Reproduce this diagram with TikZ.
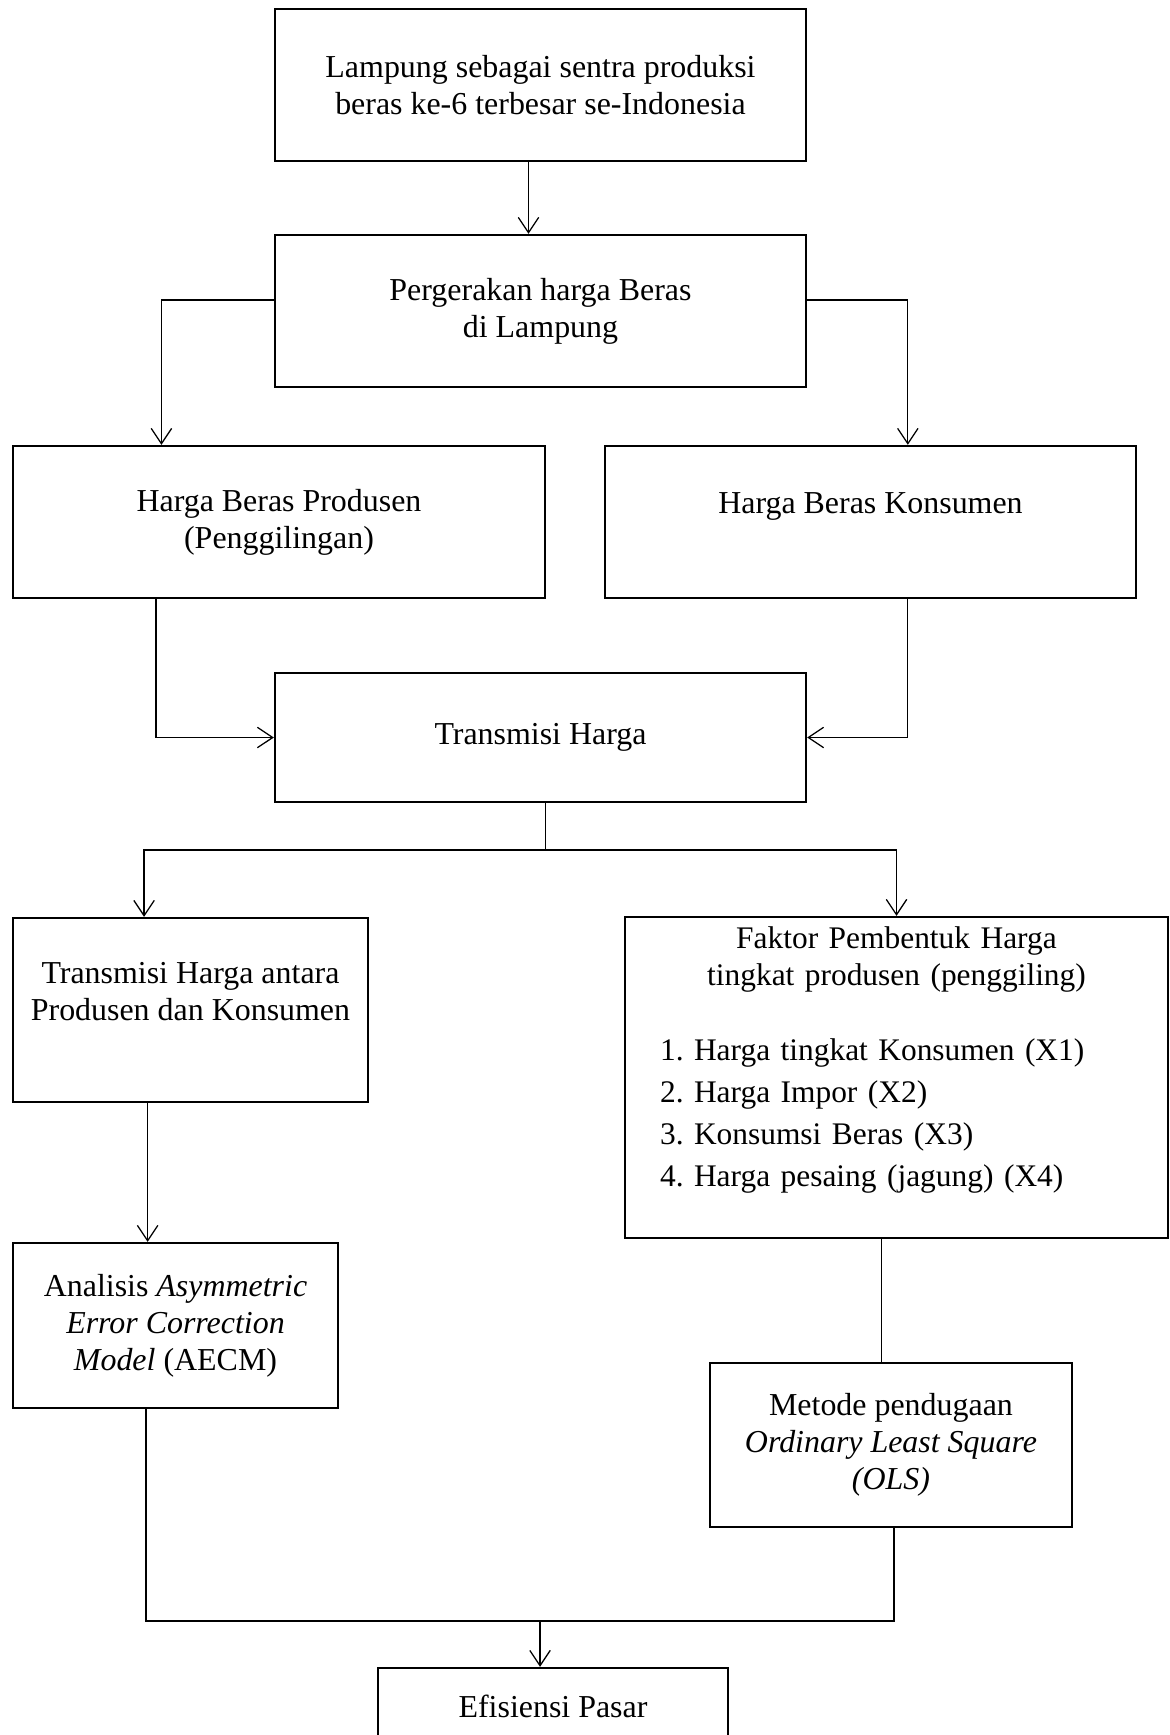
\documentclass[tikz,border=0pt,12pt]{standalone}
\usepackage{fontspec}
\setmainfont{Liberation Serif}
\usetikzlibrary{calc,arrows.meta}
\newlength\px
\setlength\px{0.3915pt}

\begin{document}
\begin{tikzpicture}[x=\px,y=-\px,
		kotak/.style={draw,line width=0.9pt,align=center,inner sep=2pt,font=\fontsize{12.5}{14.5}\selectfont},
		garis/.style={line width=0.5pt},
		panah/.style={garis,-{Straight Barb[length=6pt,width=8pt]}}]
	\useasboundingbox (0,0) rectangle (1170,1735);

	\node[kotak,minimum width=531\px,minimum height=152\px] (sentra) at (540.5,85) {Lampung sebagai sentra produksi\\beras ke-6 terbesar se-Indonesia};
	\node[kotak,minimum width=531\px,minimum height=152\px] (gerak) at (540.5,311) {Pergerakan harga Beras\\di Lampung};
	\node[kotak,minimum width=532\px,minimum height=152\px] (produsen) at (279,522) {Harga Beras Produsen\\(Penggilingan)};
	\node[kotak,minimum width=531\px,minimum height=152\px] (konsumen) at (870.5,522) {Harga Beras Konsumen\\\mbox{}};
	\node[kotak,minimum width=531\px,minimum height=129\px] (transmisi) at (540.5,737.5) {Transmisi Harga};
	\node[kotak,minimum width=355\px,minimum height=184\px] (antara) at (190.5,1010) {Transmisi Harga antara\\Produsen dan Konsumen\\\mbox{}};
	\node[draw,line width=0.9pt,inner sep=2pt,font=\fontsize{12.3}{14.5}\selectfont,minimum width=543\px,minimum height=321\px,text width=190pt] (faktor) at (896.5,1077.5) {%
		{\centering Faktor Pembentuk Harga\\tingkat produsen (penggiling)\par}
		\vspace{15.5pt}
		\noindent\hspace{2.5pt}\begin{tabular}{@{}l@{\hspace{4pt}}l@{}}
			1. & Harga tingkat Konsumen (X1)\\[2pt]
			2. & Harga Impor (X2)\\[2pt]
			3. & Konsumsi Beras (X3)\\[2pt]
			4. & Harga pesaing (jagung) (X4)\\[12pt]
		\end{tabular}};
	\node[kotak,minimum width=325\px,minimum height=165\px] (aecm) at (175.5,1325.5) {Analisis \textit{Asymmetric}\\\textit{Error Correction}\\\textit{Model} (AECM)};
	\node[kotak,minimum width=362\px,minimum height=164\px] (ols) at (891,1445) {Metode pendugaan\\\textit{Ordinary Least Square}\\\textit{(OLS)}};
	\node[kotak,minimum width=350\px,minimum height=77\px] (efisiensi) at (553,1706.5) {Efisiensi Pasar};

	\coordinate (cabang) at (0,850);
	\coordinate (gabung) at (0,1621);

	\draw[panah] ([xshift=-12\px]sentra.south) -- ([xshift=-12\px]gerak.north);
	\draw[panah] ([yshift=11\px]gerak.west) -| ($(produsen.north west)!.28!(produsen.north east)$);
	\draw[panah] ([yshift=11\px]gerak.east) -| ($(konsumen.north west)!.57!(konsumen.north east)$);
	\draw[panah] ($(produsen.south west)!.27!(produsen.south east)$) |- (transmisi.west);
	\draw[panah] ($(konsumen.south west)!.57!(konsumen.south east)$) |- (transmisi.east);
	\draw[garis] ([xshift=5\px]transmisi.south) coordinate (t1) -- (t1 |- cabang);
	\draw[panah] (t1 |- cabang) -| ($(antara.north west)!.37!(antara.north east)$);
	\draw[panah] (t1 |- cabang) -| (faktor.north);
	\draw[panah] ($(antara.south west)!.38!(antara.south east)$) coordinate (a1) -- (a1 |- aecm.north);
	\draw[garis] ([xshift=-15\px]faktor.south) coordinate (f1) -- (f1 |- ols.north);
	\draw[garis] ($(aecm.south west)!.41!(aecm.south east)$) |- ([xshift=3\px]ols.south |- gabung) -- ([xshift=3\px]ols.south);
	\draw[panah] ([xshift=-13\px]efisiensi.north |- gabung) -- ([xshift=-13\px]efisiensi.north);
\end{tikzpicture}
\end{document}
